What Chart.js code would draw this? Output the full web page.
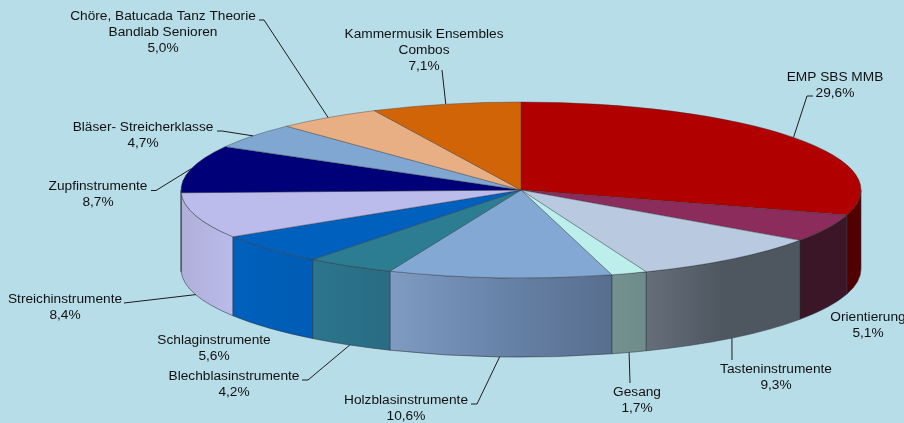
<!DOCTYPE html>
<html><head><meta charset="utf-8">
<style>html,body{margin:0;padding:0;background:#B7DDE8}canvas{display:block}</style>
<script src="https://cdn.jsdelivr.net/npm/chart.js@4"></script></head>
<body><canvas id="c" width="904" height="423"></canvas>
<script>
const categories=["EMP SBS MMB","Orientierung","Tasteninstrumente","Gesang","Holzblasinstrumente","Blechblasinstrumente","Schlaginstrumente","Streichinstrumente","Zupfinstrumente","Bläser- Streicherklasse","Chöre, Batucada Tanz Theorie Bandlab Senioren","Kammermusik Ensembles Combos"];
const shares=[29.6,5.1,9.3,1.7,10.6,4.2,5.6,8.4,8.7,4.7,5.0,7.1];
const topColors=["#B00000","#8C2C5C","#B8C9E0","#BCEEEC","#84A8D4","#2C7C92","#0060BE","#BCBCEC","#000078","#80A6D2","#E8AF84","#D26408"];
const wallColors=[["#4E0000","#560000"],["#3A1626","#3A1626"],["#666E7A","#4E5660","#4E5660"],["#74918F","#6E8C8A"],["#7F9BC2","#6783A8","#586E8E"],["#2C758C","#296C84"],["#0060BC","#005CB4"],["#AFAFD9","#BBBBEB"],["#AFAFD9","#AFAFD9"],["#80A6D2","#80A6D2"],["#E8AF84","#E8AF84"],["#D26408","#D26408"]];
const labelLines=[["EMP SBS MMB","29,6%"],["Orientierung","5,1%"],["Tasteninstrumente","9,3%"],["Gesang","1,7%"],["Holzblasinstrumente","10,6%"],["Blechblasinstrumente","4,2%"],["Schlaginstrumente","5,6%"],["Streichinstrumente","8,4%"],["Zupfinstrumente","8,7%"],["Bläser- Streicherklasse","4,7%"],["Chöre, Batucada Tanz Theorie","Bandlab Senioren","5,0%"],["Kammermusik Ensembles","Combos","7,1%"]];
const labelX=[835,868,776,637,406,234,214,65,98,143,163,424];
const labelY=[77.5,317.5,369.5,392.5,400.5,376.5,340.5,299.5,186.5,127.5,16.5,34.5];
const leaderElbows=[[[813,96],[807,96]],null,[[732,360]],[[630,383]],[[471,404],[477,404]],[[302,380],[308,380]],null,[[124,303]],[[151,190.5],[156,190.5]],[[217,131],[222,131]],[[259,20],[264,20]],[[442,70]]];

const RX=340,RY=88,DEPTH=79,K=RY/RX;
const pie3d={id:'pie3d',
 beforeDatasetsDraw(chart){
  const ctx=chart.ctx,arcs=chart.getDatasetMeta(0).data,cx=arcs[0].x,cy=arcs[0].y;
  arcs.forEach((a,i)=>{
   const s=Math.max(a.startAngle,0),e=Math.min(a.endAngle,Math.PI);
   if(e<=s)return;
   const x0=cx+RX*Math.cos(s),x1=cx+RX*Math.cos(e);
   const g=ctx.createLinearGradient(Math.min(x0,x1),0,Math.max(x0,x1),0);
   const st=wallColors[i];
   st.forEach((c,j)=>g.addColorStop(j/(st.length-1),c));
   ctx.beginPath();
   ctx.ellipse(cx,cy,RX,RY,0,s,e);
   ctx.ellipse(cx,cy+DEPTH,RX,RY,0,e,s,true);
   ctx.closePath();
   ctx.fillStyle=g;ctx.fill();
   ctx.lineWidth=1;ctx.strokeStyle='rgba(40,50,60,0.55)';ctx.stroke();
  });
  ctx.save();
  ctx.translate(cx,cy);ctx.scale(1,K);ctx.translate(-cx,-cy);
 },
 afterDatasetsDraw(chart){
  const ctx=chart.ctx,arcs=chart.getDatasetMeta(0).data,cx=arcs[0].x,cy=arcs[0].y;
  ctx.restore();
  ctx.font='13.7px "Liberation Sans", Arial, sans-serif';
  ctx.textAlign='center';ctx.textBaseline='middle';
  arcs.forEach((a,i)=>{
   const el=leaderElbows[i];
   if(el){
    const m=(a.startAngle+a.endAngle)/2;
    const ax=cx+RX*Math.cos(m),ay=cy+RY*Math.sin(m)+(Math.sin(m)>0?DEPTH:0);
    ctx.beginPath();
    el.forEach((p,j)=>j?ctx.lineTo(p[0],p[1]):ctx.moveTo(p[0],p[1]));
    ctx.lineTo(ax,ay);
    ctx.strokeStyle='#1c1c1c';ctx.lineWidth=1;ctx.stroke();
   }
   ctx.fillStyle='#111';
   labelLines[i].forEach((t,j)=>ctx.fillText(t,labelX[i],labelY[i]+j*16));
  });
 }
};
new Chart(document.getElementById('c'),{
 type:'pie',
 data:{labels:categories,datasets:[{data:shares,backgroundColor:topColors,borderColor:'rgba(50,50,50,0.6)',borderWidth:1,radius:RX,clip:false}]},
 options:{responsive:false,animation:false,events:[],layout:{padding:{left:138,bottom:43}},plugins:{legend:{display:false},tooltip:{enabled:false}}},
 plugins:[pie3d]
});
</script></body></html>
